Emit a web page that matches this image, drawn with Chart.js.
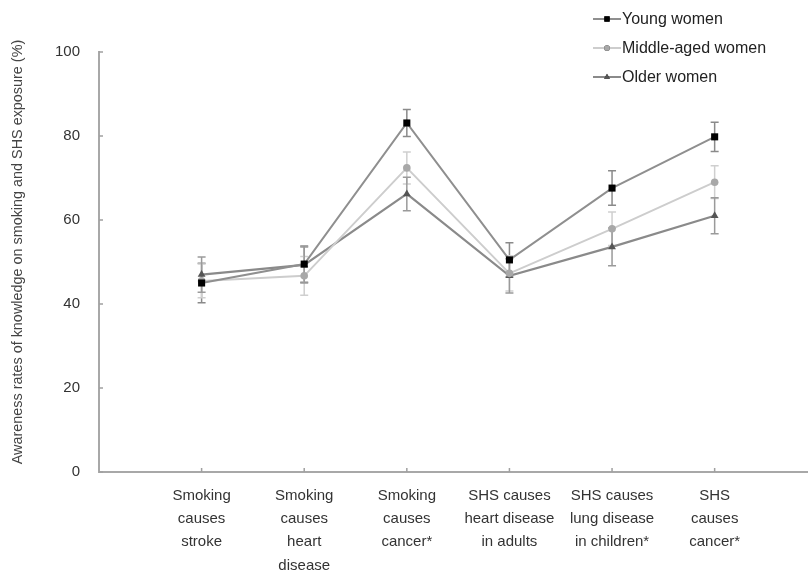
<!DOCTYPE html>
<html>
<head>
<meta charset="utf-8">
<script src="https://cdn.jsdelivr.net/npm/chart.js@4"></script>
<style>
  html, body { margin: 0; padding: 0; background: #ffffff; }
  #wrap { width: 812px; height: 571px; position: relative; }
</style>
</head>
<body>
<div id="wrap"><canvas id="c" width="812" height="571"></canvas></div>
<script>
const categories = [
  ['Smoking', 'causes', 'stroke'],
  ['Smoking', 'causes', 'heart', 'disease'],
  ['Smoking', 'causes', 'cancer*'],
  ['SHS causes', 'heart disease', 'in adults'],
  ['SHS causes', 'lung disease', 'in children*'],
  ['SHS', 'causes', 'cancer*']
];
const seriesNames = ['Young women', 'Middle-aged women', 'Older women'];
const youngValues  = [45.0, 49.5, 83.1, 50.5, 67.6, 79.8];
const youngErrors  = [4.7, 4.3, 3.2, 4.1, 4.1, 3.5];
const middleValues = [45.5, 46.7, 72.4, 47.3, 57.9, 69.0];
const middleErrors = [4.0, 4.6, 3.8, 4.2, 4.0, 3.9];
const olderValues  = [47.0, 49.3, 66.2, 46.7, 53.6, 61.0];
const olderErrors  = [4.2, 4.3, 4.0, 4.1, 4.5, 4.3];
const yTicks = [0, 20, 40, 60, 80, 100];
const yTitle = 'Awareness rates of knowledge on smoking and SHS exposure (%)';

const FONT = "'Liberation Sans', Arial, sans-serif";

function toPoints(vals) { return vals.map((v, i) => ({ x: i + 1, y: v })); }

const styles = [
  { line: '#8f8f8f', point: '#000000', err: '#8a8a8a', shape: 'rect', r: 5, w: 2 },
  { line: '#cdcdcd', point: '#a8a8a8', err: '#cfcfcf', shape: 'circle', r: 3.8, w: 2 },
  { line: '#8a8a8a', point: '#555555', err: '#9a9a9a', shape: 'triangle', r: 4.5, w: 2.2 }
];
const allValues = [youngValues, middleValues, olderValues];
const allErrors = [youngErrors, middleErrors, olderErrors];

const datasets = allValues.map((vals, k) => ({
  label: seriesNames[k],
  data: toPoints(vals),
  errors: allErrors[k],
  borderColor: styles[k].line,
  borderWidth: styles[k].w,
  pointStyle: styles[k].shape,
  pointRadius: styles[k].r,
  pointBackgroundColor: styles[k].point,
  pointBorderColor: styles[k].point,
  pointBorderWidth: 0,
  tension: 0,
  fill: false
}));

const errorBarPlugin = {
  id: 'errorBars',
  beforeDatasetsDraw(chart) {
    const ctx = chart.ctx;
    const xs = chart.scales.x, ys = chart.scales.y;
    ctx.save();
    chart.data.datasets.forEach((ds, k) => {
      ctx.strokeStyle = styles[k].err;
      ctx.lineWidth = 1.5;
      ds.data.forEach((p, i) => {
        const e = ds.errors[i];
        const x = xs.getPixelForValue(p.x);
        const yt = ys.getPixelForValue(p.y + e);
        const yb = ys.getPixelForValue(p.y - e);
        ctx.beginPath();
        ctx.moveTo(x, yt); ctx.lineTo(x, yb);
        ctx.moveTo(x - 4, yt); ctx.lineTo(x + 4, yt);
        ctx.moveTo(x - 4, yb); ctx.lineTo(x + 4, yb);
        ctx.stroke();
      });
    });
    ctx.restore();
  }
};

const tickMarkPlugin = {
  id: 'tickMarks',
  afterDraw(chart) {
    const ctx = chart.ctx;
    const xs = chart.scales.x, ys = chart.scales.y;
    const area = chart.chartArea;
    ctx.save();
    ctx.strokeStyle = '#a0a0a0';
    ctx.lineWidth = 1.5;
    ctx.beginPath();
    yTicks.forEach(v => {
      const y = ys.getPixelForValue(v);
      ctx.moveTo(area.left, y); ctx.lineTo(area.left + 4, y);
    });
    categories.forEach((c, i) => {
      const x = xs.getPixelForValue(i + 1);
      ctx.moveTo(x, area.bottom); ctx.lineTo(x, area.bottom - 4);
    });
    ctx.stroke();
    ctx.restore();
  }
};

const yTitlePlugin = {
  id: 'yTitle',
  afterDraw(chart) {
    const ctx = chart.ctx;
    ctx.save();
    ctx.translate(18, 252);
    ctx.rotate(-Math.PI / 2);
    ctx.fillStyle = '#444444';
    ctx.font = "14.4px " + FONT;
    ctx.textAlign = 'center';
    ctx.textBaseline = 'middle';
    ctx.fillText(yTitle, 0, 0);
    ctx.restore();
  }
};

const legendPlugin = {
  id: 'customLegend',
  afterDraw(chart) {
    const ctx = chart.ctx;
    const rows = [19, 48, 77];
    ctx.save();
    chart.data.datasets.forEach((ds, k) => {
      const y = rows[k];
      ctx.strokeStyle = styles[k].line;
      ctx.lineWidth = 2;
      ctx.beginPath();
      ctx.moveTo(593, y); ctx.lineTo(621, y);
      ctx.stroke();
      Chart.helpers.drawPoint(ctx, {
        pointStyle: styles[k].shape,
        radius: styles[k].r * 0.75,
        borderWidth: 0,
        rotation: 0
      }, 607, y);
      ctx.fillStyle = styles[k].point;
      ctx.fill();
      ctx.fillStyle = '#222222';
      ctx.font = "16px " + FONT;
      ctx.textBaseline = 'middle';
      ctx.textAlign = 'left';
      ctx.fillText(ds.label, 622, y + 1);
    });
    ctx.restore();
  }
};

new Chart(document.getElementById('c'), {
  type: 'line',
  data: { datasets },
  options: {
    responsive: false,
    animation: false,
    layout: { padding: { top: 52, right: 0, bottom: 0, left: 0 } },
    plugins: { legend: { display: false }, tooltip: { enabled: false } },
    scales: {
      x: {
        type: 'linear',
        min: 0,
        max: 6.9,
        grid: { display: false, drawTicks: false },
        border: { display: true, color: '#a8a8a8', width: 2 },
        afterBuildTicks(scale) { scale.ticks = categories.map((c, i) => ({ value: i + 1 })); },
        afterFit(scale) { scale.height = 99; },
        ticks: {
          autoSkip: false,
          maxRotation: 0,
          padding: 12,
          color: '#333333',
          font: { family: FONT, size: 15, lineHeight: 1.55 },
          callback: (v) => categories[Math.round(v) - 1]
        }
      },
      y: {
        min: 0,
        max: 100,
        grid: { display: false, drawTicks: false },
        border: { display: true, color: '#a8a8a8', width: 2 },
        afterBuildTicks(scale) { scale.ticks = yTicks.map(v => ({ value: v })); },
        afterFit(scale) { scale.width = 99; },
        ticks: {
          padding: 19,
          color: '#333333',
          font: { family: FONT, size: 15 }
        },
        title: { display: false }
      }
    }
  },
  plugins: [errorBarPlugin, tickMarkPlugin, yTitlePlugin, legendPlugin]
});
</script>
</body>
</html>
